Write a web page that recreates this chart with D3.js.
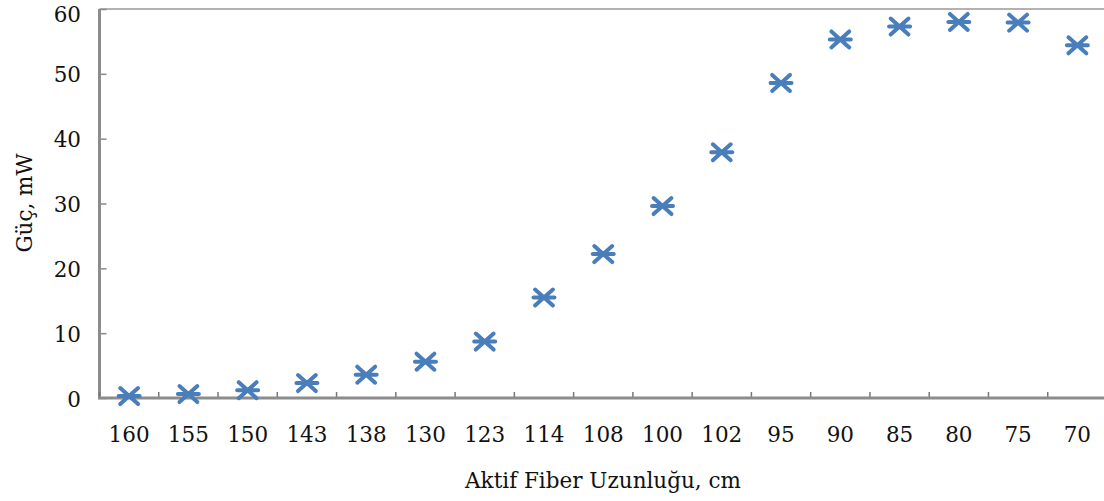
<!DOCTYPE html>
<html><head><meta charset="utf-8">
<script src="https://cdn.jsdelivr.net/npm/d3@7"></script>
<style>body{margin:0;background:#fff}svg{display:block}</style>
</head><body>
<svg id="c" width="1104" height="501"></svg>
<script>
const categories = ["160","155","150","143","138","130","123","114","108","100","102","95","90","85","80","75","70"];
const power = [0.3,0.6,1.2,2.3,3.6,5.6,8.7,15.5,22.2,29.6,37.9,48.6,55.3,57.3,58.0,57.9,54.4];
const yTicks = [0,10,20,30,40,50,60];
const xTitle = "Aktif Fiber Uzunluğu, cm";
const yTitle = "Güç, mW";

const svg = d3.select("#c");
const L = 99.5, R = 1107, T = 9, B = 398;
const font = "'DejaVu Serif', serif";
const x = d3.scaleBand().domain(categories).range([L, R]);
const y = d3.scaleLinear().domain([0, 60]).range([B, T]);

// top border
svg.append("line").attr("x1", L).attr("x2", R).attr("y1", T).attr("y2", T)
  .attr("stroke", "#999").attr("stroke-width", 1.5);

// y axis
const yAxis = svg.append("g").attr("transform", `translate(${L},0)`)
  .call(d3.axisRight(y).tickValues(yTicks).tickSize(7).tickFormat(""));
yAxis.select(".domain").remove();
yAxis.selectAll("line").attr("stroke", "#888").attr("stroke-width", 1.5);
svg.append("line").attr("x1", L).attr("x2", L).attr("y1", T).attr("y2", B + 1)
  .attr("stroke", "#8c8c8c").attr("stroke-width", 3);
svg.append("g").selectAll("text").data(yTicks).join("text")
  .attr("x", 81).attr("y", d => Math.max(y(d) + 1, 14)).attr("dy", "0.35em")
  .attr("text-anchor", "end").attr("font-family", font).attr("font-size", 21.5)
  .attr("fill", "#111").text(d => d);

// x axis ticks at band boundaries
const bounds = categories.map(c => x(c)).concat([R]);
svg.append("g").selectAll("line").data(bounds).join("line")
  .attr("x1", d => d).attr("x2", d => d).attr("y1", B).attr("y2", B - 6)
  .attr("stroke", "#777").attr("stroke-width", 1.5);
svg.append("line").attr("x1", L - 1.5).attr("x2", R).attr("y1", B).attr("y2", B)
  .attr("stroke", "#8c8c8c").attr("stroke-width", 3);
svg.append("g").selectAll("text").data(categories).join("text")
  .attr("x", d => x(d) + x.bandwidth() / 2).attr("y", 442)
  .attr("text-anchor", "middle").attr("font-family", font).attr("font-size", 21.5)
  .attr("fill", "#111").text(d => d);

// titles
svg.append("text").attr("x", 603).attr("y", 488).attr("text-anchor", "middle")
  .attr("font-family", font).attr("font-size", 21.5).attr("fill", "#111").text(xTitle);
svg.append("text").attr("transform", "translate(32,203) rotate(-90)").attr("text-anchor", "middle")
  .attr("font-family", font).attr("font-size", 21.5).attr("fill", "#111").text(yTitle);

// asterisk markers
const hw = 10.5, hh = 8;
const path = `M${-hw * 0.85},${-hh}L${hw * 0.85},${hh}M${-hw * 0.85},${hh}L${hw * 0.85},${-hh}M${-hw},0L${hw},0`;
svg.append("g").selectAll("path").data(categories).join("path")
  .attr("transform", (d, i) => `translate(${x(d) + x.bandwidth() / 2},${y(power[i])})`)
  .attr("d", path).attr("fill", "none").attr("stroke", "#4a7ebb")
  .attr("stroke-width", 4).attr("stroke-linecap", "round");
</script>
</body></html>
